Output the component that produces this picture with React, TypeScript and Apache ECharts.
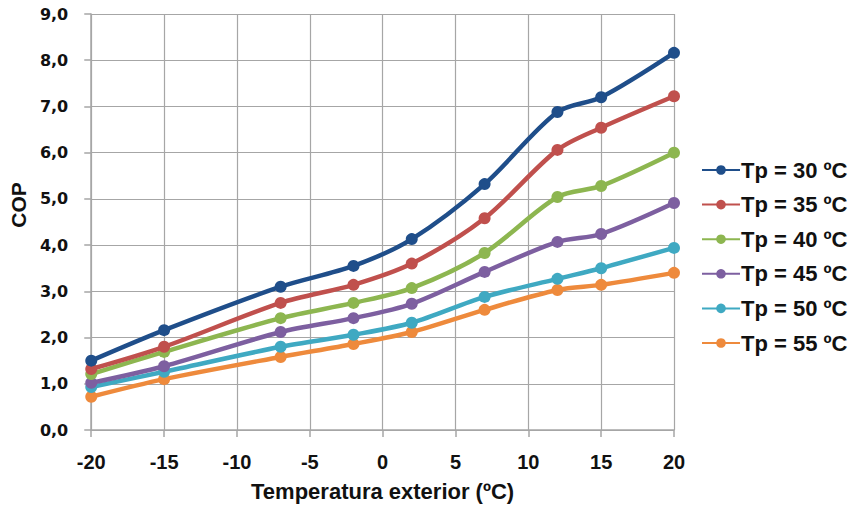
import React, { useEffect, useRef } from "react";
import * as echarts from "echarts";

const temps = [-20, -15, -7, -2, 2, 7, 12, 15, 20];
const seriesNames = ["Tp = 30 ºC", "Tp = 35 ºC", "Tp = 40 ºC", "Tp = 45 ºC", "Tp = 50 ºC", "Tp = 55 ºC"];
const tp30 = [1.5, 2.16, 3.1, 3.55, 4.13, 5.32, 6.88, 7.2, 8.16];
const tp35 = [1.32, 1.8, 2.75, 3.14, 3.6, 4.58, 6.06, 6.54, 7.22];
const tp40 = [1.21, 1.69, 2.42, 2.75, 3.07, 3.83, 5.04, 5.28, 6.0];
const tp45 = [1.02, 1.38, 2.12, 2.42, 2.73, 3.42, 4.07, 4.24, 4.91];
const tp50 = [0.93, 1.26, 1.8, 2.06, 2.32, 2.88, 3.27, 3.5, 3.94];
const tp55 = [0.72, 1.1, 1.58, 1.86, 2.12, 2.6, 3.03, 3.14, 3.4];
const allValues = [tp30, tp35, tp40, tp45, tp50, tp55];
const colors = ["#1F4E8A", "#C0504D", "#8DB650", "#7D5FA0", "#3FA9C2", "#EE8A3C"];

export default function App() {
  const ref = useRef<HTMLDivElement>(null);
  useEffect(() => {
    document.body.style.margin = "0";
    const chart = echarts.init(ref.current!, null, { renderer: "svg" });
    const gridColor = "#A6A6A6";
    chart.setOption({
      animation: false,
      backgroundColor: "#ffffff",
      grid: { left: 88, right: 182, top: 14, bottom: 77 },
      legend: {
        orient: "vertical",
        left: 696,
        top: 153,
        padding: 5,
        itemWidth: 38,
        itemHeight: 12,
        itemGap: 10.6,
        data: seriesNames,
        textStyle: {
          fontFamily: "Liberation Sans",
          fontWeight: "bold",
          fontSize: 22,
          color: "#111",
          lineHeight: 24,
          padding: [0, 0, 0, -4],
        },
      },
      xAxis: {
        type: "value",
        min: -20,
        max: 20,
        interval: 5,
        name: "Temperatura exterior (ºC)",
        nameLocation: "middle",
        nameGap: 50,
        nameTextStyle: { fontFamily: "Liberation Sans", fontWeight: "bold", fontSize: 22, color: "#111" },
        axisLine: { show: true, onZero: false, lineStyle: { color: gridColor, width: 1.5 } },
        axisTick: { show: true, length: 7, lineStyle: { color: gridColor, width: 1.5 } },
        axisLabel: { margin: 22, fontFamily: "Liberation Sans", fontWeight: "bold", fontSize: 20, color: "#111" },
        splitLine: { show: true, lineStyle: { color: gridColor, width: 1.2 } },
      },
      yAxis: {
        type: "value",
        min: 0,
        max: 9,
        interval: 1,
        name: "COP",
        nameLocation: "middle",
        nameGap: 62,
        nameRotate: 90,
        nameTextStyle: {
          fontFamily: "Liberation Sans",
          fontWeight: "bold",
          fontSize: 21,
          color: "#111",
          padding: [0, 0, 0, 34],
        },
        axisLine: { show: true, onZero: false, lineStyle: { color: gridColor, width: 1.5 } },
        axisTick: { show: true, length: 7, lineStyle: { color: gridColor, width: 1.5 } },
        axisLabel: {
          margin: 23,
          fontFamily: "DejaVu Sans",
          fontWeight: "bold",
          fontSize: 16,
          color: "#111",
          formatter: (v: number) => v.toFixed(1).replace(".", ","),
        },
        splitLine: { show: true, lineStyle: { color: gridColor, width: 1.2 } },
      },
      series: seriesNames.map((name, i) => ({
        name,
        type: "line",
        smooth: 0.3,
        data: temps.map((t, j) => [t, allValues[i][j]]),
        symbol: "circle",
        symbolSize: 12,
        lineStyle: { width: 4.5, color: colors[i] },
        itemStyle: { color: colors[i] },
        z: 10 - i,
      })),
    });
    return () => chart.dispose();
  }, []);
  return <div ref={ref} style={{ width: 856, height: 507 }} />;
}
